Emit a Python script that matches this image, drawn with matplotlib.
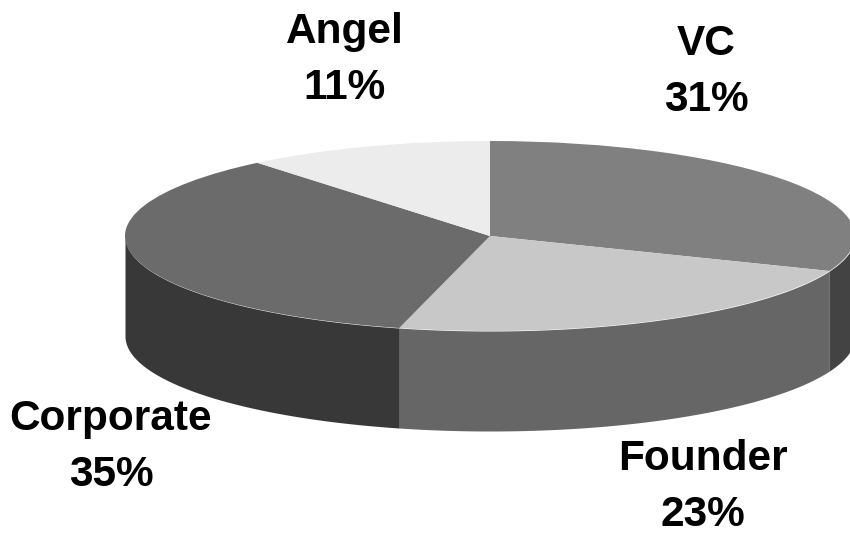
import numpy as np
import matplotlib
matplotlib.use("Agg")
import matplotlib.pyplot as plt

# Funding sources, clockwise from twelve o'clock
labels = ["VC", "Founder", "Corporate", "Angel"]
shares = [31, 23, 35, 11]
top_colors = ["#808080", "#c8c8c8", "#6b6b6b", "#ececec"]
side_colors = ["#434343", "#666666", "#383838", "#383838"]

W, H = 850, 535
CX, CY = 490, 236
RX, RY = 365, 95
DEPTH = 100

plt.rcParams["font.family"] = ["Liberation Sans", "DejaVu Sans"]
fig = plt.figure(figsize=(W / 100, H / 100), dpi=100, facecolor="white")

# Unit circle maps onto the flattened ellipse of the disc
ax = fig.add_axes([(CX - RX) / W, 1 - (CY + RY) / H, 2 * RX / W, 2 * RY / H])
ax.set_axis_off()

depth = DEPTH / RY
total = sum(shares)
edges = 90 - np.cumsum([0] + shares) * 360 / total

# Rim of the disc, only the part that faces the viewer
for i in range(len(shares)):
    a1, a0 = edges[i], edges[i + 1]
    theta = np.radians(np.linspace(a0, a1, 200))
    y = np.sin(theta)
    x = np.cos(theta)
    keep = y <= 0
    if keep.sum() < 2:
        continue
    ax.fill_between(x[keep], y[keep], y[keep] - depth, color=side_colors[i],
                    linewidth=0, clip_on=False)

ax.pie(shares, startangle=90, counterclock=False, colors=top_colors, radius=1,
       wedgeprops={"linewidth": 0, "clip_on": False})
ax.set_aspect("auto")
ax.set_xlim(-1, 1)
ax.set_ylim(-1, 1)

# Category and share captions
caption_pos = [(706, 72), (703, 487), (111, 447), (345, 60)]
for name, share, (px, py) in zip(labels, shares, caption_pos):
    fig.text(px / W, 1 - py / H, f"{name}\n{share}%", ha="center", va="center",
             fontsize=30.5, fontweight="bold", color="black", linespacing=1.5)

fig.savefig("out.png", dpi=100, facecolor="white")
